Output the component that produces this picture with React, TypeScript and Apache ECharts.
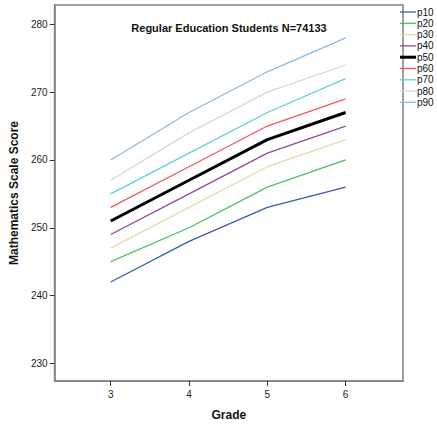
import React, { useEffect, useRef } from "react";
import * as echarts from "echarts";

const grades = [3, 4, 5, 6];
const seriesNames = ["p10", "p20", "p30", "p40", "p50", "p60", "p70", "p80", "p90"];
const p10 = [242, 248, 253, 256];
const p20 = [245, 250, 256, 260];
const p30 = [247, 253, 259, 263];
const p40 = [249, 255, 261, 265];
const p50 = [251, 257, 263, 267];
const p60 = [253, 259, 265, 269];
const p70 = [255, 261, 267, 272];
const p80 = [257, 264, 270, 274];
const p90 = [260, 267, 273, 278];
const yTicks = [230, 240, 250, 260, 270, 280];
const colors = ["#3d5aab", "#4cbf62", "#e0dbab", "#8d4a9b", "#000000", "#f0565b", "#5fd0d0", "#d6d6d6", "#90b8dc"];

const allValues = [p10, p20, p30, p40, p50, p60, p70, p80, p90];

export default function App() {
  const ref = useRef<HTMLDivElement>(null);
  useEffect(() => {
    if (!ref.current) return;
    const chart = echarts.init(ref.current, null, { renderer: "svg" });
    const font = "Liberation Sans, Arial, sans-serif";
    chart.setOption({
      animation: false,
      textStyle: { fontFamily: font },
      title: {
        text: "Regular Education Students N=74133",
        left: 224,
        textAlign: "center",
        top: 17,
        textStyle: { fontSize: 11, fontWeight: "bold", color: "#111", fontFamily: font },
      },
      legend: {
        orient: "vertical",
        left: 400,
        top: 6.5,
        itemWidth: 16,
        itemHeight: 8,
        itemGap: 0.3,
        padding: 0,
        symbolKeepAspect: true,
        textStyle: { fontSize: 10, lineHeight: 11, color: "#111", padding: [0, 0, 0, -4], fontFamily: font },
        data: seriesNames.map((n) => ({
          name: n,
          icon: n === "p50" ? "path://M0,0 L16,0 L16,3 L0,3 Z" : "path://M0,0 L16,0 L16,1.3 L0,1.3 Z",
        })),
      },
      grid: {
        left: 51,
        right: 34,
        top: 5,
        bottom: 45,
        show: true,
        borderColor: "#808080",
        borderWidth: 1.5,
        backgroundColor: "#fff",
      },
      xAxis: {
        type: "value",
        min: 2.283,
        max: 6.733,
        name: "Grade",
        nameLocation: "middle",
        nameGap: 28,
        nameTextStyle: { fontSize: 12, fontWeight: "bold", color: "#111", fontFamily: font },
        axisLine: { show: true, lineStyle: { color: "#808080", width: 1.5 } },
        axisTick: { show: true, customValues: grades, length: 5, lineStyle: { color: "#333" } },
        axisLabel: { customValues: grades, fontSize: 10, color: "#222", margin: 8 },
        splitLine: { show: false },
      },
      yAxis: {
        type: "value",
        min: 227.4,
        max: 282.85,
        name: "Mathematics Scale Score",
        nameLocation: "middle",
        nameGap: 32,
        nameTextStyle: { fontSize: 12, fontWeight: "bold", color: "#111", fontFamily: font },
        axisLine: { show: true, lineStyle: { color: "#808080", width: 1.5 } },
        axisTick: { show: true, customValues: yTicks, length: 5, lineStyle: { color: "#333" } },
        axisLabel: { customValues: yTicks, fontSize: 10, color: "#222", margin: 7 },
        splitLine: { show: false },
      },
      series: seriesNames.map((name, i) => ({
        name,
        type: "line",
        symbol: "none",
        data: grades.map((g, j) => [g, allValues[i][j]]),
        color: colors[i],
        lineStyle: { color: colors[i], width: name === "p50" ? 3 : 1.3 },
        z: name === "p50" ? 5 : 2,
      })),
    });
    return () => chart.dispose();
  }, []);
  return (
    <div
      ref={ref}
      style={{ position: "fixed", left: 0, top: 0, width: 437, height: 426, background: "#fff" }}
    />
  );
}
